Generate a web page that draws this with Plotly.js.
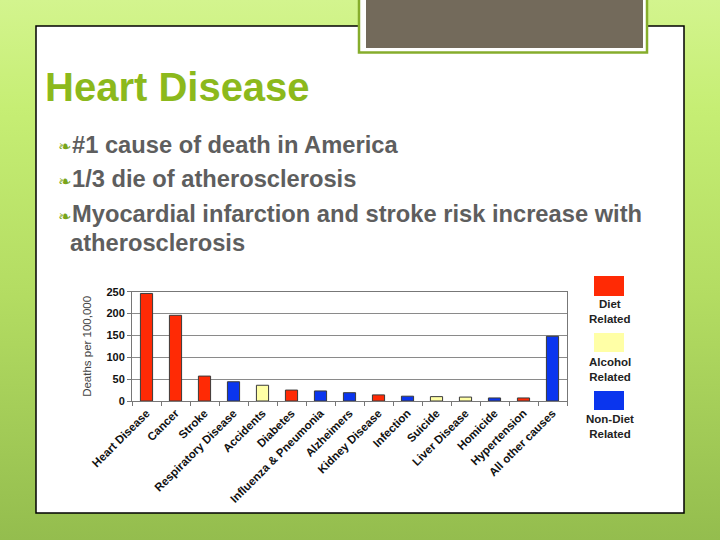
<!DOCTYPE html>
<html>
<head>
<meta charset="utf-8">
<script src="https://cdn.plot.ly/plotly-3.0.1.min.js"></script>
<style>
html,body{margin:0;padding:0;width:720px;height:540px;overflow:hidden;
background:linear-gradient(to bottom,#d3f48e 0%,#c6ee74 20%,#b3dc62 55%,#94bd4e 100%);}
#chart{width:720px;height:540px;}
</style>
</head>
<body>
<div id="chart"></div>
<script>
const categories = ["Heart Disease","Cancer","Stroke","Respiratory Disease","Accidents","Diabetes",
  "Influenza & Pneumonia","Alzheimers","Kidney Disease","Infection","Suicide","Liver Disease",
  "Homicide","Hypertension","All other causes"];
const deaths = [246,196,57,44,36,25,23,19,14,11,10,9,7,7,148];
const groups = ["diet","diet","diet","nondiet","alcohol","diet","nondiet","nondiet","diet","nondiet",
  "alcohol","alcohol","nondiet","diet","nondiet"];
const groupColors = {diet:"#ff2a05", alcohol:"#ffffa6", nondiet:"#0a35ee"};
const legendItems = [["diet","Diet<br>Related"],["alcohol","Alcohol<br>Related"],["nondiet","Non-Diet<br>Related"]];
const yTicks = [0,50,100,150,200,250];
const slideTitle = "Heart Disease";
const bullets = ["#1 cause of death in America","1/3 die of atherosclerosis",
  "Myocardial infarction and stroke risk increase with"];
const bulletCont = "atherosclerosis";

const W=720,H=540;
const px=x=>x/W, py=y=>1-y/H;

const trace = {
  type:"bar", x:categories, y:deaths,
  marker:{color:groups.map(g=>groupColors[g]), line:{color:"#3a3a3a",width:1}},
  hoverinfo:"x+y"
};

const shapes = [
  {type:"rect",xref:"paper",yref:"paper",x0:px(36),x1:px(684),y0:py(513),y1:py(26),
   fillcolor:"#ffffff",line:{color:"#000",width:1.5},layer:"below"},
  {type:"rect",xref:"paper",yref:"paper",x0:px(359),x1:px(647),y0:py(52.5),y1:py(-2),
   fillcolor:"#ffffff",line:{color:"#86ad2c",width:2.5},layer:"below"},
  {type:"rect",xref:"paper",yref:"paper",x0:px(366),x1:px(643),y0:py(48),y1:py(-2),
   fillcolor:"#736a5b",line:{width:0},layer:"below"}
];
const legY = [[276,296],[333,352],[391,410]];
legendItems.forEach((it,i)=>{
  shapes.push({type:"rect",xref:"paper",yref:"paper",x0:px(594),x1:px(624),
    y0:py(legY[i][1]),y1:py(legY[i][0]),fillcolor:groupColors[it[0]],line:{width:0}});
});

const bodyFont = {family:"Liberation Sans, Arial",size:23.7,color:"#5e5e5e",weight:"bold"};
const annotations = [
  {text:slideTitle,xref:"paper",yref:"paper",x:px(43),y:py(87),xanchor:"left",yanchor:"middle",
   showarrow:false,font:{family:"Liberation Sans, Arial",size:40,color:"#8cb91c",weight:"bold"}}
];
const lineY=[145,179,214];
bullets.forEach((b,i)=>{
  annotations.push({text:"❧",xref:"paper",yref:"paper",x:px(56),y:py(lineY[i]+2),xanchor:"left",yanchor:"middle",
    showarrow:false,font:{family:"DejaVu Sans",size:16,color:"#7aa51a"}});
  annotations.push({text:b,xref:"paper",yref:"paper",x:px(70),y:py(lineY[i]),xanchor:"left",yanchor:"middle",
    showarrow:false,font:bodyFont});
});
annotations.push({text:bulletCont,xref:"paper",yref:"paper",x:px(68),y:py(243),xanchor:"left",yanchor:"middle",
  showarrow:false,font:bodyFont});
const legTextY=[312,369,426];
legendItems.forEach((it,i)=>{
  annotations.push({text:it[1],xref:"paper",yref:"paper",x:px(610),y:py(legTextY[i]),xanchor:"center",yanchor:"middle",
    showarrow:false,font:{family:"Liberation Sans, Arial",size:11.5,color:"#222",weight:"bold"}});
});

const layout = {
  width:W,height:H,margin:{l:0,r:0,t:0,b:0},
  paper_bgcolor:"rgba(0,0,0,0)",plot_bgcolor:"#ffffff",
  showlegend:false,bargap:0.58,
  xaxis:{domain:[px(132),px(567)],type:"category",tickangle:-45,tickson:"boundaries",
    ticks:"outside",ticklen:4,tickcolor:"#777",showline:true,linecolor:"#777",mirror:true,
    tickfont:{family:"Liberation Sans, Arial",size:11.5,color:"#111",weight:"bold"},showgrid:false},
  yaxis:{domain:[py(401),py(291.7)],range:[0,250],tickvals:yTicks,ticks:"outside",ticklen:4,tickcolor:"#777",
    showline:true,linecolor:"#777",mirror:true,gridcolor:"#8a8a8a",gridwidth:1,zeroline:false,
    tickfont:{family:"Liberation Sans, Arial",size:11,color:"#111",weight:"bold"},
    title:{text:"Deaths per 100,000",font:{family:"Liberation Sans, Arial",size:11.5,color:"#444"},standoff:12}},
  shapes:shapes,annotations:annotations
};
Plotly.newPlot("chart",[trace],layout,{displayModeBar:false,staticPlot:true});
</script>
</body>
</html>
